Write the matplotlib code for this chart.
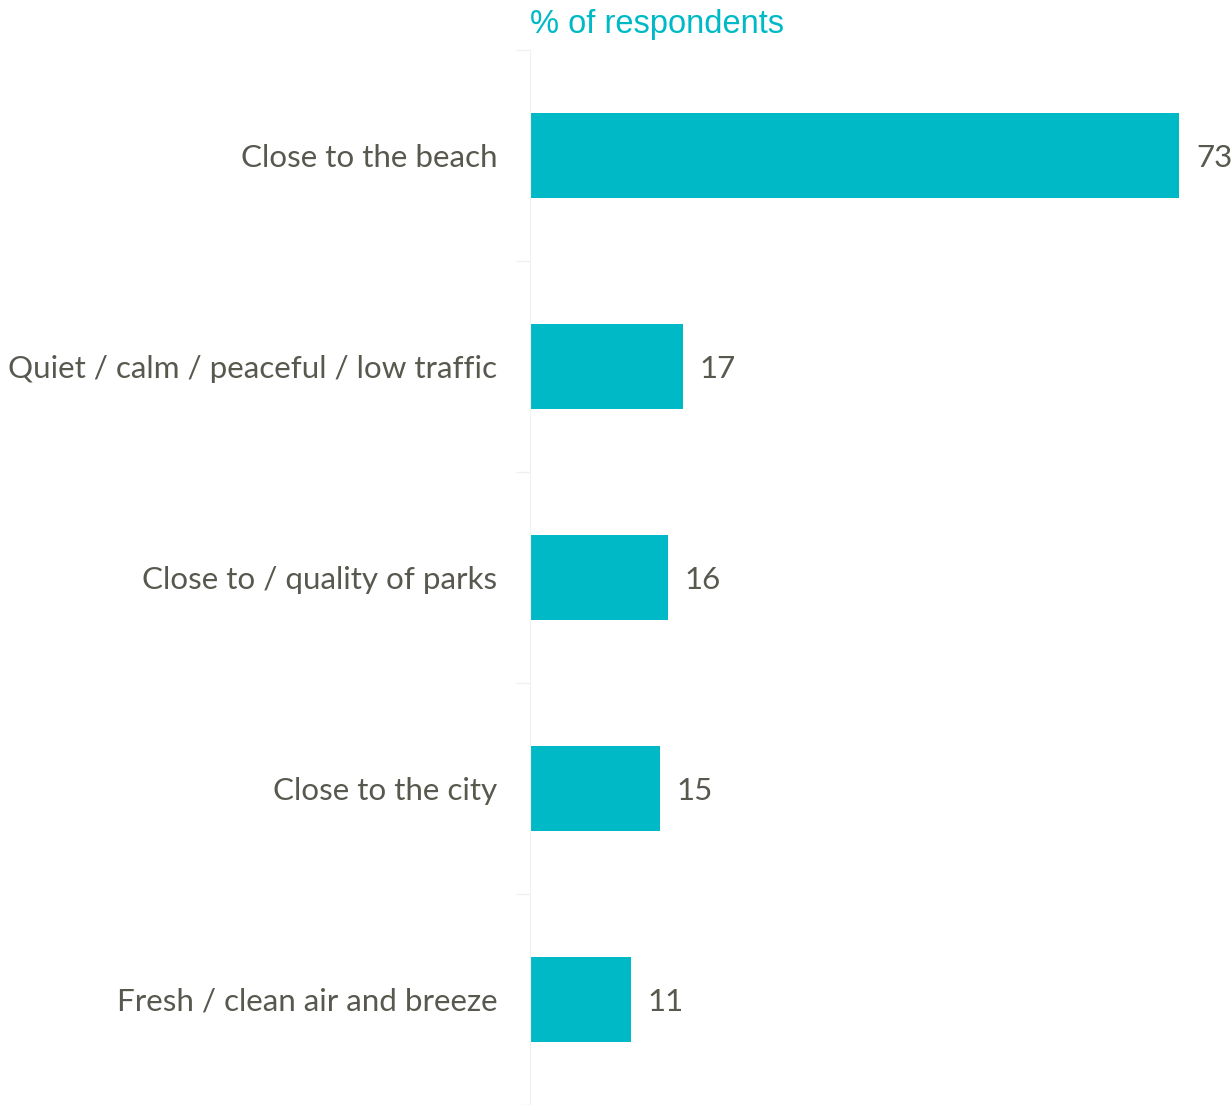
import matplotlib
matplotlib.use("Agg")
import matplotlib.pyplot as plt

# values (% of respondents); bar lengths suggest
# unrounded values, labels show them rounded
categories = ["Close to the beach", "Quiet / calm / peaceful / low traffic",
              "Close to / quality of parks", "Close to the city",
              "Fresh / clean air and breeze"]
values = [73.0, 17.2, 15.5, 14.6, 11.3]

teal = "#00B9C6"
grey_text = "#58584F"

fig = plt.figure(figsize=(12.31, 11.05), dpi=100)
ax = fig.add_axes([530 / 1231, 0, 701 / 1231, 1055 / 1105])

pos = list(range(len(categories)))
ax.barh(pos, values, height=0.4, color=teal)
ax.set_ylim(len(categories) - 0.5, -0.5)
ax.set_xlim(0, 78.8)

# value labels
for p, v in zip(pos, values):
    ax.text(v + 1.9, p + 0.01, str(round(v)), va="center", ha="left", fontsize=22.5,
            family="Lato", color=grey_text)

# category labels via minor ticks, boundary ticks as major
ax.set_yticks([p - 0.5 for p in pos] + [len(pos) - 0.5])
ax.set_yticklabels([])
ax.set_yticks(pos, minor=True)
ax.set_yticklabels(categories, minor=True, fontsize=22.6, family="Lato", color=grey_text)
ax.tick_params(axis="y", which="minor", length=0, pad=23.5)
ax.tick_params(axis="y", which="major", length=10, color="#F0F0F0", width=1)
ax.set_xticks([])

for s in ["top", "right", "bottom"]:
    ax.spines[s].set_visible(False)
ax.spines["left"].set_color("#F0F0F0")

fig.text(530 / 1231, 1 - 24 / 1105, "% of respondents", color=teal, fontsize=23.5,
         family="Liberation Sans", va="center", ha="left")

fig.savefig("out.png", dpi=100)
